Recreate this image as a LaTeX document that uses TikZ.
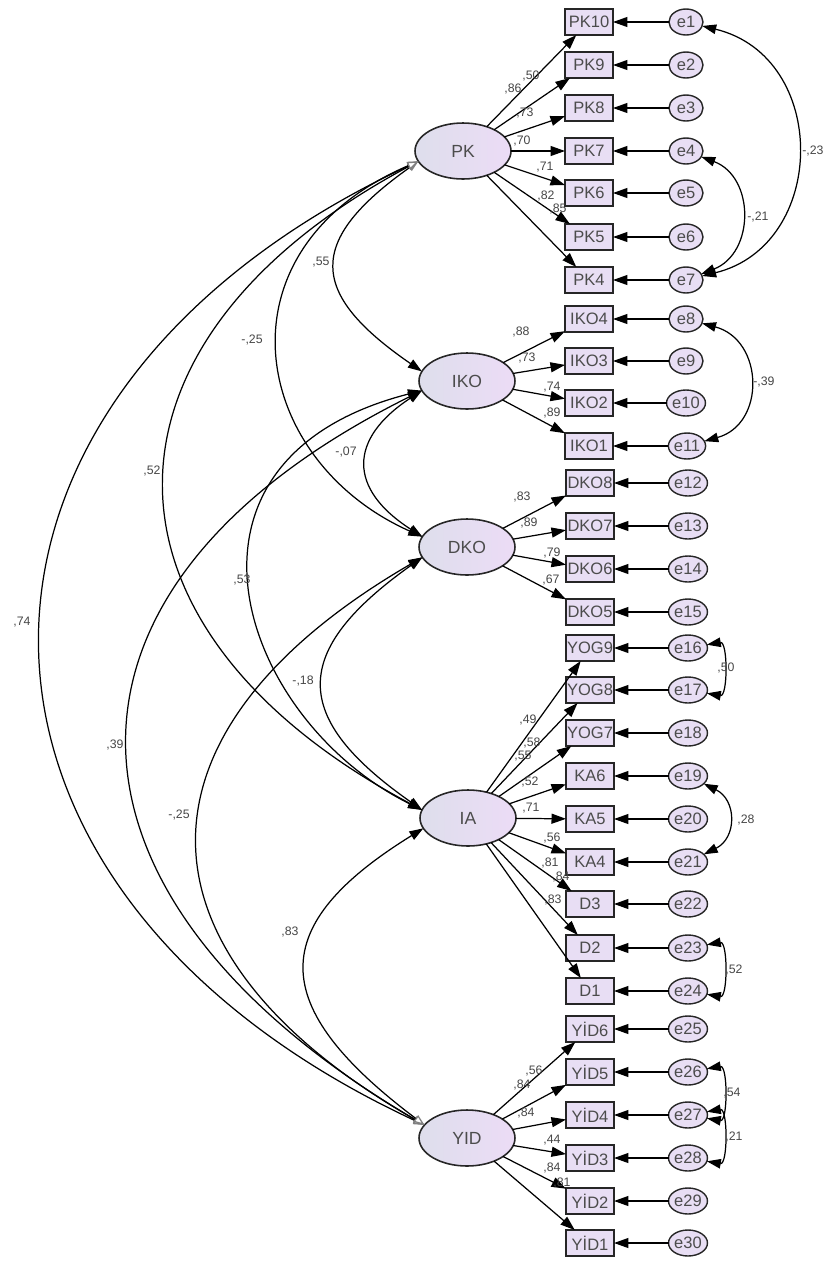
\documentclass[tikz,border=0pt]{standalone}
\usepackage{fontspec}
\setmainfont{Liberation Sans}
\usepackage{tikz}
\usetikzlibrary{arrows.meta,shapes.geometric,positioning}

\definecolor{latL}{RGB}{222,222,236}
\definecolor{latR}{RGB}{236,220,246}
\definecolor{obsfill}{RGB}{232,222,244}
\definecolor{coefgray}{RGB}{70,70,70}

\tikzset{
latent/.style={ellipse,draw=black!85,line width=0.9pt,left color=latL,right color=latR,
  minimum width=1.92cm,minimum height=1.12cm,inner sep=0pt,outer sep=0pt,
  font=\fontsize{10}{12}\selectfont,text=black!70},
obs/.style={rectangle,draw=black!85,line width=1pt,fill=obsfill,
  minimum width=0.96cm,minimum height=0.52cm,inner sep=0pt,outer sep=0pt,
  font=\fontsize{9.4}{11}\selectfont,text=black!70},
err/.style={ellipse,draw=black!85,line width=0.8pt,fill=obsfill,
  minimum width=0.68cm,minimum height=0.52cm,inner sep=0pt,outer sep=0pt,
  font=\fontsize{9.4}{11}\selectfont,text=black!70},
load/.style={-{Triangle[length=2.9mm,width=2mm]},line width=0.7pt},
cov/.style={{Triangle[length=2.8mm,width=1.9mm]}-{Triangle[length=2.8mm,width=1.9mm]},line width=0.7pt},
covin/.style={{Triangle[fill=white,color=black!50,length=2.2mm,width=1.6mm]}-{Triangle[length=2.8mm,width=1.9mm]},line width=0.7pt},
covout/.style={{Triangle[length=2.8mm,width=1.9mm]}-{Triangle[fill=white,color=black!50,length=2.2mm,width=1.6mm]},line width=0.7pt},
covopen/.style={{Triangle[fill=white,color=black!50,length=2.2mm,width=1.6mm]}-{Triangle[fill=white,color=black!50,length=2.2mm,width=1.6mm]},line width=0.7pt},
coef/.style={font=\fontsize{7}{8}\selectfont,text=coefgray,inner sep=0pt}
}

\begin{document}
\begin{tikzpicture}[x=0.02cm,y=-0.02cm]
\useasboundingbox (0,0) rectangle (826,1262);

% latent variables
\node[latent] (PK) at (463,151) {PK};
\node[latent] (IKO) at (467,381) {IKO};
\node[latent] (DKO) at (467,547) {DKO};
\node[latent] (IA) at (468,818) {IA};
\node[latent] (YID) at (467,1138) {YID};

% observed variables
\node[obs] (PK10) at (589,22) {PK10};
\node[obs] (PK9) at (589,65) {PK9};
\node[obs] (PK8) at (589,108) {PK8};
\node[obs] (PK7) at (589,151) {PK7};
\node[obs] (PK6) at (589,193) {PK6};
\node[obs] (PK5) at (589,237) {PK5};
\node[obs] (PK4) at (589,280) {PK4};
\node[obs] (IKO4) at (589,319) {IKO4};
\node[obs] (IKO3) at (589,361) {IKO3};
\node[obs] (IKO2) at (589,403) {IKO2};
\node[obs] (IKO1) at (589,446) {IKO1};
\node[obs] (DKO8) at (590,483) {DKO8};
\node[obs] (DKO7) at (590,526) {DKO7};
\node[obs] (DKO6) at (590,569) {DKO6};
\node[obs] (DKO5) at (590,612) {DKO5};
\node[obs] (YOG9) at (590,648) {YOG9};
\node[obs] (YOG8) at (590,690) {YOG8};
\node[obs] (YOG7) at (590,733) {YOG7};
\node[obs] (KA6) at (590,776) {KA6};
\node[obs] (KA5) at (590,819) {KA5};
\node[obs] (KA4) at (590,862) {KA4};
\node[obs] (D3) at (590,904) {D3};
\node[obs] (D2) at (590,948) {D2};
\node[obs] (D1) at (590,991) {D1};
\node[obs] (YID6) at (590,1029) {YİD6};
\node[obs] (YID5) at (590,1072) {YİD5};
\node[obs] (YID4) at (590,1115) {YİD4};
\node[obs] (YID3) at (590,1158) {YİD3};
\node[obs] (YID2) at (590,1201) {YİD2};
\node[obs] (YID1) at (590,1243) {YİD1};

% error terms
\node[err] (e1) at (686,22) {e1};
\node[err] (e2) at (686,65) {e2};
\node[err] (e3) at (686,108) {e3};
\node[err] (e4) at (686,151) {e4};
\node[err] (e5) at (686,193) {e5};
\node[err] (e6) at (686,237) {e6};
\node[err] (e7) at (686,280) {e7};
\node[err] (e8) at (686,319) {e8};
\node[err] (e9) at (686,361) {e9};
\node[err] (e10) at (686,403) {e10};
\node[err] (e11) at (687,446) {e11};
\node[err] (e12) at (688,483) {e12};
\node[err] (e13) at (688,526) {e13};
\node[err] (e14) at (688,569) {e14};
\node[err] (e15) at (688,612) {e15};
\node[err] (e16) at (688,648) {e16};
\node[err] (e17) at (688,690) {e17};
\node[err] (e18) at (688,733) {e18};
\node[err] (e19) at (688,776) {e19};
\node[err] (e20) at (688,819) {e20};
\node[err] (e21) at (688,862) {e21};
\node[err] (e22) at (688,904) {e22};
\node[err] (e23) at (688,948) {e23};
\node[err] (e24) at (688,991) {e24};
\node[err] (e25) at (688,1029) {e25};
\node[err] (e26) at (688,1072) {e26};
\node[err] (e27) at (688,1115) {e27};
\node[err] (e28) at (688,1158) {e28};
\node[err] (e29) at (688,1201) {e29};
\node[err] (e30) at (688,1243) {e30};

% loadings
\draw[load] (PK) -- (PK10);
\draw[load] (PK) -- (PK9);
\draw[load] (PK) -- (PK8);
\draw[load] (PK) -- (PK7);
\draw[load] (PK) -- (PK6);
\draw[load] (PK) -- (PK5);
\draw[load] (PK) -- (PK4);
\draw[load] (IKO) -- (IKO4);
\draw[load] (IKO) -- (IKO3);
\draw[load] (IKO) -- (IKO2);
\draw[load] (IKO) -- (IKO1);
\draw[load] (DKO) -- (DKO8);
\draw[load] (DKO) -- (DKO7);
\draw[load] (DKO) -- (DKO6);
\draw[load] (DKO) -- (DKO5);
\draw[load] (IA) -- (YOG9);
\draw[load] (IA) -- (YOG8);
\draw[load] (IA) -- (YOG7);
\draw[load] (IA) -- (KA6);
\draw[load] (IA) -- (KA5);
\draw[load] (IA) -- (KA4);
\draw[load] (IA) -- (D3);
\draw[load] (IA) -- (D2);
\draw[load] (IA) -- (D1);
\draw[load] (YID) -- (YID6);
\draw[load] (YID) -- (YID5);
\draw[load] (YID) -- (YID4);
\draw[load] (YID) -- (YID3);
\draw[load] (YID) -- (YID2);
\draw[load] (YID) -- (YID1);

% errors to indicators
\draw[load] (e1) -- (PK10);
\draw[load] (e2) -- (PK9);
\draw[load] (e3) -- (PK8);
\draw[load] (e4) -- (PK7);
\draw[load] (e5) -- (PK6);
\draw[load] (e6) -- (PK5);
\draw[load] (e7) -- (PK4);
\draw[load] (e8) -- (IKO4);
\draw[load] (e9) -- (IKO3);
\draw[load] (e10) -- (IKO2);
\draw[load] (e11) -- (IKO1);
\draw[load] (e12) -- (DKO8);
\draw[load] (e13) -- (DKO7);
\draw[load] (e14) -- (DKO6);
\draw[load] (e15) -- (DKO5);
\draw[load] (e16) -- (YOG9);
\draw[load] (e17) -- (YOG8);
\draw[load] (e18) -- (YOG7);
\draw[load] (e19) -- (KA6);
\draw[load] (e20) -- (KA5);
\draw[load] (e21) -- (KA4);
\draw[load] (e22) -- (D3);
\draw[load] (e23) -- (D2);
\draw[load] (e24) -- (D1);
\draw[load] (e25) -- (YID6);
\draw[load] (e26) -- (YID5);
\draw[load] (e27) -- (YID4);
\draw[load] (e28) -- (YID3);
\draw[load] (e29) -- (YID2);
\draw[load] (e30) -- (YID1);

% error covariances
\draw[cov] (e1) .. controls (830,57) and (828,245) .. (e7);
\draw[cov] (e4) .. controls (755,177) and (755,253) .. (e7);
\draw[cov] (e8) .. controls (764,340) and (766,424) .. (e11);
\draw[cov] (e16) .. controls (728,641) and (728,697) .. (e17);
\draw[cov] (e19) .. controls (737,800) and (737,838) .. (e21);
\draw[cov] (e23) .. controls (728,941) and (728,998) .. (e24);
\draw[cov] (e26) .. controls (728,1065) and (728,1122) .. (e27);
\draw[cov] (e27) .. controls (728,1108) and (728,1165) .. (e28);

% latent covariances
\draw[covin] (PK.193) .. controls (306,241) and (308,293) .. (IKO.168);
\draw[covin] (PK.193) .. controls (212,250) and (250,460) .. (DKO.167);
\draw[covin] (PK.193) .. controls (78,343) and (82,629) .. (IA.170);
\draw[covopen] (PK.193) .. controls (-87,397) and (-85,888) .. (YID.163);
\draw[cov] (IKO.192) .. controls (348,439) and (348,489) .. (DKO.167);
\draw[cov] (IKO.192) .. controls (150,460) and (240,720) .. (IA.170);
\draw[covout] (IKO.192) .. controls (20,590) and (40,900) .. (YID.163);
\draw[cov] (DKO.193) .. controls (289,652) and (291,718) .. (IA.170);
\draw[covout] (DKO.193) .. controls (123,731) and (123,952) .. (YID.163);
\draw[covout] (IA.193) .. controls (267,925) and (265,1005) .. (YID.163);

% loading estimates
\node[coef] (wPK10) at (531,76) {,50};
\node[coef] (wPK9) at (513,89) {,86};
\node[coef] (wPK8) at (525,113) {,73};
\node[coef] (wPK7) at (522,141) {,70};
\node[coef] (wPK6) at (545,167) {,71};
\node[coef] (wPK5) at (546,196) {,82};
\node[coef] (wPK4) at (558,209) {,85};
\node[coef] (wIKO4) at (521,332) {,88};
\node[coef] (wIKO3) at (527,358) {,73};
\node[coef] (wIKO2) at (552,387) {,74};
\node[coef] (wIKO1) at (552,413) {,89};
\node[coef] (wDKO8) at (522,497) {,83};
\node[coef] (wDKO7) at (529,523) {,89};
\node[coef] (wDKO6) at (552,553) {,79};
\node[coef] (wDKO5) at (551,580) {,67};
\node[coef] (wYOG9) at (528,720) {,49};
\node[coef] (wYOG8) at (532,743) {,58};
\node[coef] (wYOG7) at (523,756) {,55};
\node[coef] (wKA6) at (530,782) {,52};
\node[coef] (wKA5) at (531,808) {,71};
\node[coef] (wKA4) at (552,838) {,56};
\node[coef] (wD3) at (550,863) {,81};
\node[coef] (wD2) at (561,877) {,84};
\node[coef] (wD1) at (553,900) {,83};
\node[coef] (wYID6) at (534,1071) {,56};
\node[coef] (wYID5) at (522,1085) {,84};
\node[coef] (wYID4) at (526,1113) {,84};
\node[coef] (wYID3) at (552,1140) {,44};
\node[coef] (wYID2) at (552,1168) {,84};
\node[coef] (wYID1) at (562,1183) {,81};

% covariance estimates
\node[coef,anchor=west] (r1) at (802,151) {-,23};
\node[coef,anchor=west] (r2) at (747,217) {-,21};
\node[coef,anchor=west] (r3) at (753,382) {-,39};
\node[coef,anchor=west] (r4) at (717,668) {,50};
\node[coef,anchor=west] (r5) at (737,820) {,28};
\node[coef,anchor=west] (r6) at (725,970) {,52};
\node[coef,anchor=west] (r7) at (723,1093) {,54};
\node[coef,anchor=west] (r8) at (725,1137) {,21};
\node[coef] (k1) at (321,262) {,55};
\node[coef] (k2) at (252,340) {-,25};
\node[coef] (k3) at (152,471) {,52};
\node[coef] (k4) at (22,622) {,74};
\node[coef] (k5) at (346,452) {-,07};
\node[coef] (k6) at (242,580) {,53};
\node[coef] (k7) at (115,745) {,39};
\node[coef] (k8) at (303,681) {-,18};
\node[coef] (k9) at (179,815) {-,25};
\node[coef] (k10) at (290,932) {,83};

\end{tikzpicture}
\end{document}
